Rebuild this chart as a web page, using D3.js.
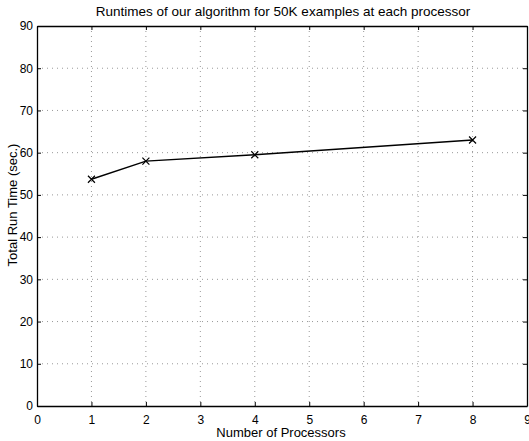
<!DOCTYPE html>
<html>
<head>
<meta charset="utf-8">
<script src="https://cdn.jsdelivr.net/npm/d3@7"></script>
<style>
  body { margin: 0; background: #fff; }
  svg { display: block; font-family: "Liberation Sans", Arial, sans-serif; }
  .grid line { stroke: #999; stroke-dasharray: 1,4; }
</style>
</head>
<body>
<svg class="runtimes" width="529" height="441"></svg>
<script>
var processors = [1, 2, 4, 8];
var runTimes = [53.7, 58.0, 59.5, 63.0];
var xTicks = [0, 1, 2, 3, 4, 5, 6, 7, 8, 9];
var yTicks = [0, 10, 20, 30, 40, 50, 60, 70, 80, 90];

var svg = d3.select("svg.runtimes"),
    margin = {top: 26, right: 2, bottom: 35, left: 37},
    width = +svg.attr("width") - margin.left - margin.right,
    height = +svg.attr("height") - margin.top - margin.bottom,
    g = svg.append("g").attr("transform", "translate(" + margin.left + "," + margin.top + ")");

var x = d3.scaleLinear().domain([0, 9]).range([0, width]);
var y = d3.scaleLinear().domain([0, 90]).range([height, 0]);

// dotted grid
g.append("g").attr("class", "grid")
  .selectAll("line.v").data(xTicks.slice(1, -1))
  .enter().append("line")
    .attr("x1", function (d) { return x(d); })
    .attr("x2", function (d) { return x(d); })
    .attr("y1", 0).attr("y2", height);

g.append("g").attr("class", "grid")
  .selectAll("line.h").data(yTicks.slice(1, -1))
  .enter().append("line")
    .attr("y1", function (d) { return y(d); })
    .attr("y2", function (d) { return y(d); })
    .attr("x1", 0).attr("x2", width);

// axes with inward ticks
var xAxis = g.append("g")
    .attr("transform", "translate(0," + height + ")")
    .call(d3.axisBottom(x).tickValues(xTicks).tickSizeInner(-4).tickSizeOuter(0).tickPadding(9));
var yAxis = g.append("g")
    .call(d3.axisLeft(y).tickValues(yTicks).tickSizeInner(-4).tickSizeOuter(0).tickPadding(4));
g.append("g")
    .call(d3.axisTop(x).tickValues(xTicks).tickSizeInner(-4).tickSizeOuter(0).tickFormat(""));
g.append("g")
    .attr("transform", "translate(" + width + ",0)")
    .call(d3.axisRight(y).tickValues(yTicks).tickSizeInner(-4).tickSizeOuter(0).tickFormat(""));

g.selectAll(".domain").attr("stroke", "#000").attr("stroke-width", 1.3);
g.selectAll(".tick line").attr("stroke", "#000");
xAxis.selectAll("text").attr("font-size", "12px").attr("fill", "#000");
yAxis.selectAll("text").attr("font-size", "12px").attr("fill", "#000");

// data line and x markers
var pts = processors.map(function (p, i) { return [p, runTimes[i]]; });
g.append("path")
    .datum(pts)
    .attr("fill", "none")
    .attr("stroke", "#000")
    .attr("stroke-width", 1.4)
    .attr("d", d3.line().x(function (d) { return x(d[0]); }).y(function (d) { return y(d[1]); }));

g.selectAll(".marker").data(pts)
  .enter().append("path")
    .attr("class", "marker")
    .attr("transform", function (d) { return "translate(" + x(d[0]) + "," + y(d[1]) + ")"; })
    .attr("d", "M-3.5,-3.5L3.5,3.5M-3.5,3.5L3.5,-3.5")
    .attr("stroke", "#000")
    .attr("stroke-width", 1.2);

// labels
g.append("text")
    .attr("text-anchor", "middle")
    .attr("x", width / 2 + 1)
    .attr("y", -10)
    .attr("font-size", "13.5px")
    .text("Runtimes of our algorithm for 50K examples at each processor");

g.append("text")
    .attr("text-anchor", "middle")
    .attr("x", width / 2 - 1)
    .attr("y", height + 31)
    .attr("font-size", "13px")
    .text("Number of Processors");

g.append("text")
    .attr("text-anchor", "middle")
    .attr("transform", "rotate(-90)")
    .attr("x", -(205 - margin.top))
    .attr("y", -20)
    .attr("font-size", "13px")
    .text("Total Run Time (sec.)");
</script>
</body>
</html>
